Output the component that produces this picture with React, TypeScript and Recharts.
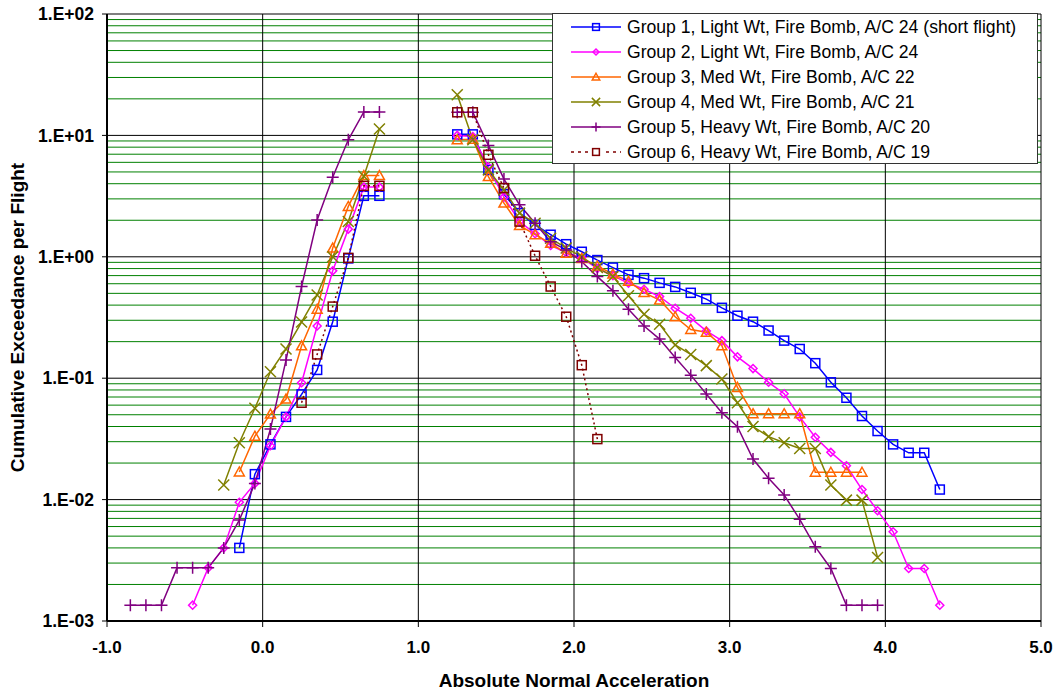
import React from 'react';
import {
  LineChart,
  Line,
  XAxis,
  YAxis,
  CartesianGrid,
  Legend,
} from 'recharts';

type Pt = [number, number];

// left lobe (negative side, plotted as absolute) and right lobe (positive side)
const group1Left: Pt[] = [
  [-0.15, 0.004], [-0.05, 0.0162], [0.05, 0.0285], [0.15, 0.048], [0.25, 0.0736],
  [0.35, 0.117], [0.45, 0.292], [0.55, 0.97], [0.65, 3.18], [0.75, 3.18],
];
const group1Right: Pt[] = [
  [1.25, 10.2], [1.35, 10.2], [1.45, 5.2], [1.55, 3.28], [1.65, 2.29], [1.75, 1.83],
  [1.85, 1.52], [1.95, 1.27], [2.05, 1.1], [2.15, 0.94], [2.25, 0.815], [2.35, 0.71],
  [2.45, 0.667], [2.55, 0.61], [2.65, 0.565], [2.75, 0.505], [2.85, 0.448], [2.95, 0.38],
  [3.05, 0.327], [3.15, 0.292], [3.25, 0.247], [3.35, 0.204], [3.45, 0.174], [3.55, 0.133],
  [3.65, 0.0925], [3.75, 0.069], [3.85, 0.0488], [3.95, 0.0367], [4.05, 0.0285],
  [4.15, 0.0243], [4.25, 0.0243], [4.35, 0.0121],
];

const group2Left: Pt[] = [
  [-0.45, 0.00135], [-0.35, 0.00274], [-0.25, 0.004], [-0.15, 0.0095], [-0.05, 0.0136],
  [0.05, 0.0278], [0.15, 0.048], [0.25, 0.0918], [0.35, 0.269], [0.45, 0.766],
  [0.55, 1.69], [0.65, 3.75], [0.75, 3.75],
];
const group2Right: Pt[] = [
  [1.25, 10.0], [1.35, 9.8], [1.45, 5.5], [1.55, 3.1], [1.65, 1.95], [1.75, 1.55],
  [1.85, 1.24], [1.95, 1.08], [2.05, 0.98], [2.15, 0.8], [2.25, 0.7], [2.35, 0.605],
  [2.45, 0.54], [2.55, 0.47], [2.65, 0.377], [2.75, 0.312], [2.85, 0.245], [2.95, 0.204],
  [3.05, 0.15], [3.15, 0.12], [3.25, 0.0925], [3.35, 0.0745], [3.45, 0.048], [3.55, 0.0326],
  [3.65, 0.0245], [3.75, 0.019], [3.85, 0.0121], [3.95, 0.0081], [4.05, 0.00543],
  [4.15, 0.00271], [4.25, 0.00271], [4.35, 0.00135],
];

const group3Left: Pt[] = [
  [-0.15, 0.0169], [-0.05, 0.0333], [0.05, 0.0507], [0.15, 0.0673], [0.25, 0.185],
  [0.35, 0.37], [0.45, 1.18], [0.55, 2.6], [0.65, 4.67], [0.75, 4.67],
];
const group3Right: Pt[] = [
  [1.25, 9.2], [1.35, 9.3], [1.45, 4.58], [1.55, 2.77], [1.65, 1.81], [1.75, 1.52],
  [1.85, 1.29], [1.95, 1.07], [2.05, 0.97], [2.15, 0.84], [2.25, 0.72], [2.35, 0.63],
  [2.45, 0.507], [2.55, 0.44], [2.65, 0.321], [2.75, 0.252], [2.85, 0.239], [2.95, 0.185],
  [3.05, 0.084], [3.15, 0.051], [3.25, 0.051], [3.35, 0.051], [3.45, 0.051], [3.55, 0.0168],
  [3.65, 0.0168], [3.75, 0.0168], [3.85, 0.0168],
];

const group4Left: Pt[] = [
  [-0.25, 0.0132], [-0.15, 0.0294], [-0.05, 0.0565], [0.05, 0.113], [0.15, 0.174],
  [0.25, 0.29], [0.35, 0.485], [0.45, 1.0], [0.55, 1.95], [0.65, 4.6], [0.75, 11.3],
];
const group4Right: Pt[] = [
  [1.25, 21.6], [1.35, 9.2], [1.45, 5.2], [1.55, 3.55], [1.65, 2.29], [1.75, 1.89],
  [1.85, 1.42], [1.95, 1.18], [2.05, 1.0], [2.15, 0.815], [2.25, 0.687], [2.35, 0.477],
  [2.45, 0.336], [2.55, 0.278], [2.65, 0.188], [2.75, 0.157], [2.85, 0.127], [2.95, 0.0984],
  [3.05, 0.0628], [3.15, 0.04], [3.25, 0.033], [3.35, 0.0294], [3.45, 0.0264], [3.55, 0.0264],
  [3.65, 0.0132], [3.75, 0.0099], [3.85, 0.0099], [3.95, 0.00334],
];

const group5Left: Pt[] = [
  [-0.85, 0.00135], [-0.75, 0.00135], [-0.65, 0.00135], [-0.55, 0.00274], [-0.45, 0.00274],
  [-0.35, 0.00274], [-0.25, 0.004], [-0.15, 0.00678], [-0.05, 0.0136], [0.05, 0.0381],
  [0.15, 0.141], [0.25, 0.569], [0.35, 2.01], [0.45, 4.53], [0.55, 9.2], [0.65, 15.6],
  [0.75, 15.6],
];
const group5Right: Pt[] = [
  [1.25, 15.5], [1.35, 15.5], [1.45, 8.27], [1.55, 4.37], [1.65, 2.68], [1.75, 1.89],
  [1.85, 1.33], [1.95, 1.14], [2.05, 0.91], [2.15, 0.687], [2.25, 0.524], [2.35, 0.37],
  [2.45, 0.269], [2.55, 0.21], [2.65, 0.148], [2.75, 0.106], [2.85, 0.074], [2.95, 0.052],
  [3.05, 0.0398], [3.15, 0.0216], [3.25, 0.015], [3.35, 0.0109], [3.45, 0.00688],
  [3.55, 0.00408], [3.65, 0.00271], [3.75, 0.00135], [3.85, 0.00135], [3.95, 0.00135],
];

const group6Left: Pt[] = [
  [0.25, 0.0628], [0.35, 0.157], [0.45, 0.389], [0.55, 0.98], [0.65, 3.84], [0.75, 3.84],
];
const group6Right: Pt[] = [
  [1.25, 15.5], [1.35, 15.5], [1.45, 6.92], [1.55, 3.68], [1.65, 1.95], [1.75, 1.02],
  [1.85, 0.569], [1.95, 0.321], [2.05, 0.128], [2.15, 0.0315],
];

const xTicks = [-1, 0, 1, 2, 3, 4, 5];
const yTicks = [0.001, 0.01, 0.1, 1, 10, 100];
const minorSteps = [2, 3, 4, 5, 6, 7, 8, 9];

const FONT = 'Arial, "Liberation Sans", sans-serif';

type Shape = 'square' | 'diamond' | 'triangle' | 'x' | 'plus';

const series = [
  { name: 'Group 1, Light Wt, Fire Bomb, A/C 24 (short flight)', color: '#0000FF', shape: 'square' as Shape, left: group1Left, right: group1Right, dash: undefined },
  { name: 'Group 2, Light Wt, Fire Bomb, A/C 24', color: '#FF00FF', shape: 'diamond' as Shape, left: group2Left, right: group2Right, dash: undefined },
  { name: 'Group 3, Med Wt, Fire Bomb, A/C 22', color: '#FF6600', shape: 'triangle' as Shape, left: group3Left, right: group3Right, dash: undefined },
  { name: 'Group 4, Med Wt, Fire Bomb, A/C 21', color: '#808000', shape: 'x' as Shape, left: group4Left, right: group4Right, dash: undefined },
  { name: 'Group 5, Heavy Wt, Fire Bomb, A/C 20', color: '#800080', shape: 'plus' as Shape, left: group5Left, right: group5Right, dash: undefined },
  { name: 'Group 6, Heavy Wt, Fire Bomb, A/C 19', color: '#800000', shape: 'square' as Shape, left: group6Left, right: group6Right, dash: '2 3' },
];

// join the two lobes, with a gap so they are not connected
const toRows = (left: Pt[], right: Pt[]) => [
  ...left.map(([x, y]) => ({ x, y })),
  { x: 1.0, y: null },
  ...right.map(([x, y]) => ({ x, y })),
];

const minorGrid = yTicks.slice(0, -1).flatMap((d) => minorSteps.map((m) => d * m));

// minor log gridlines, placed through the y axis scale
const minorCoords = (args: any) => {
  const sc = args?.yAxis?.scale;
  if (typeof sc === 'function') return minorGrid.map((v) => sc(v));
  const { top, height } = args.offset;
  return minorGrid.map((v) => top + ((2 - Math.log10(v)) / 5) * height);
};

const fmtY = (v: number) => {
  const e = Math.round(Math.log10(v));
  return `1.E${e < 0 ? '-' : '+'}${String(Math.abs(e)).padStart(2, '0')}`;
};

const Marker = ({ shape, cx, cy, color, s = 1 }: { shape: Shape; cx: number; cy: number; color: string; s?: number }) => {
  const sw = 1.5;
  if (shape === 'square') {
    const h = 4.5 * s;
    return <rect x={cx - h} y={cy - h} width={h * 2} height={h * 2} fill="none" stroke={color} strokeWidth={sw} />;
  }
  if (shape === 'diamond') {
    const h = 4 * s;
    return <path d={`M${cx},${cy - h}L${cx + h},${cy}L${cx},${cy + h}L${cx - h},${cy}Z`} fill="none" stroke={color} strokeWidth={sw} />;
  }
  if (shape === 'triangle') {
    const h = 5 * s;
    return <path d={`M${cx},${cy - h}L${cx + h},${cy + h * 0.8}L${cx - h},${cy + h * 0.8}Z`} fill="none" stroke={color} strokeWidth={sw} />;
  }
  if (shape === 'x') {
    const h = 5.5 * s;
    return <path d={`M${cx - h},${cy - h}L${cx + h},${cy + h}M${cx - h},${cy + h}L${cx + h},${cy - h}`} stroke={color} strokeWidth={sw} />;
  }
  const h = 6 * s;
  return <path d={`M${cx - h},${cy}L${cx + h},${cy}M${cx},${cy - h}L${cx},${cy + h}`} stroke={color} strokeWidth={sw} />;
};

const makeDot = (shape: Shape, color: string) => (props: any) => {
  const { cx, cy, index, payload } = props;
  if (cx == null || cy == null || payload == null || payload.y == null) return <g key={`d${index}`} />;
  return (
    <g key={`d${index}`}>
      <Marker shape={shape} cx={cx} cy={cy} color={color} />
    </g>
  );
};

const renderLegend = () => (
  <div
    style={{
      position: 'relative',
      width: 486,
      height: 151,
      background: '#fff',
      border: '1px solid #333',
      fontFamily: FONT,
      fontSize: 17.6,
      color: '#000',
      boxSizing: 'border-box',
    }}
  >
    {series.map((s, i) => (
      <div key={s.name} style={{ position: 'absolute', left: 0, top: 1 + i * 24.9, height: 24, display: 'flex', alignItems: 'center' }}>
        <svg width={74} height={24} style={{ display: 'block', flex: 'none' }}>
          <line x1={18} x2={68} y1={12} y2={12} stroke={s.color} strokeWidth={1.5} strokeDasharray={s.dash ? '3 4' : undefined} />
          <rect x={37} y={6} width={12} height={12} fill="#fff" opacity={s.dash ? 1 : 0} />
          <Marker shape={s.shape} cx={43} cy={12} color={s.color} s={0.75} />
        </svg>
        <span style={{ whiteSpace: 'nowrap', lineHeight: '24px' }}>{s.name}</span>
      </div>
    ))}
  </div>
);

const axisText = { fill: '#000', fontSize: 17.5, fontWeight: 'bold', fontFamily: FONT };
const titleText = { fill: '#000', fontSize: 19, fontWeight: 'bold', fontFamily: FONT };

export default function App() {
  return (
    <div style={{ position: 'absolute', left: 0, top: 0, background: '#fff' }}>
      <LineChart width={1054} height={691} margin={{ top: 14, right: 13, bottom: 0, left: 0 }}>
        <CartesianGrid horizontalCoordinatesGenerator={minorCoords} vertical={false} stroke="#008000" strokeWidth={1} />
        <CartesianGrid stroke="#000" strokeWidth={1} />
        <XAxis
          type="number"
          dataKey="x"
          domain={[-1, 5]}
          ticks={xTicks}
          tickFormatter={(v: number) => v.toFixed(1)}
          axisLine={{ stroke: '#000', strokeWidth: 2 }}
          tickLine={{ stroke: '#000' }}
          tickSize={6}
          tickMargin={14}
          height={70}
          tick={{ ...axisText, fontSize: 17 }}
          label={{ value: 'Absolute Normal Acceleration', position: 'insideBottom', offset: 4, ...titleText }}
          allowDataOverflow
        />
        <YAxis
          type="number"
          scale="log"
          domain={[0.001, 100]}
          ticks={yTicks}
          tickFormatter={fmtY}
          axisLine={{ stroke: '#000', strokeWidth: 2 }}
          tickLine={{ stroke: '#000' }}
          tickSize={5}
          tickMargin={8}
          width={107}
          tick={axisText}
          label={{ value: 'Cumulative Exceedance per Flight', angle: -90, position: 'center', dx: -36, ...titleText }}
          allowDataOverflow
        />
        <Legend
          layout="vertical"
          align="center"
          verticalAlign="middle"
          content={renderLegend}
          wrapperStyle={{ position: 'absolute', left: 552, top: 13, width: 486, height: 151 }}
        />
        {series.map((s) => (
          <Line
            key={s.name}
            name={s.name}
            data={toRows(s.left, s.right)}
            dataKey="y"
            stroke={s.color}
            strokeWidth={1.5}
            strokeDasharray={s.dash}
            dot={makeDot(s.shape, s.color)}
            activeDot={false}
            connectNulls={false}
            isAnimationActive={false}
          />
        ))}
      </LineChart>
    </div>
  );
}
